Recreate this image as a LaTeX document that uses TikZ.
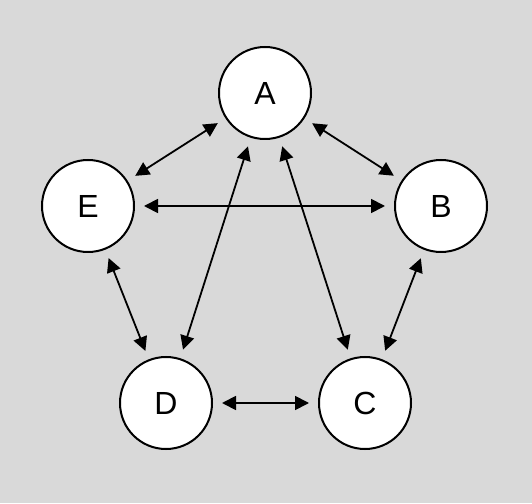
\documentclass[tikz,border=0pt]{standalone}
\usepackage{fontspec}
\setmainfont{Liberation Sans}
\usetikzlibrary{arrows.meta}

\begin{document}
\begin{tikzpicture}[x=1pt,y=1pt,
  vertex/.style={circle, draw, line width=2pt, fill=white, minimum size=92pt, inner sep=0pt, font=\fontsize{32}{32}\selectfont},
  link/.style={{Triangle[length=14pt,width=14pt]}-{Triangle[length=14pt,width=14pt]}, line width=1.8pt, shorten <=9pt, shorten >=9pt}]
\fill[black!15] (0,0) rectangle (532,503);
\useasboundingbox (0,0) rectangle (532,503);
\node[vertex] (A) at (265,410) {A};
\node[vertex] (B) at (441,297) {B};
\node[vertex] (C) at (365,100) {C};
\node[vertex] (D) at (166,100) {D};
\node[vertex] (E) at (88,297) {E};
\foreach \u/\v in {E/A, A/B, E/B, E/D, B/C, D/C, A/D, A/C} {\draw[link] (\u) -- (\v);}
\end{tikzpicture}
\end{document}
